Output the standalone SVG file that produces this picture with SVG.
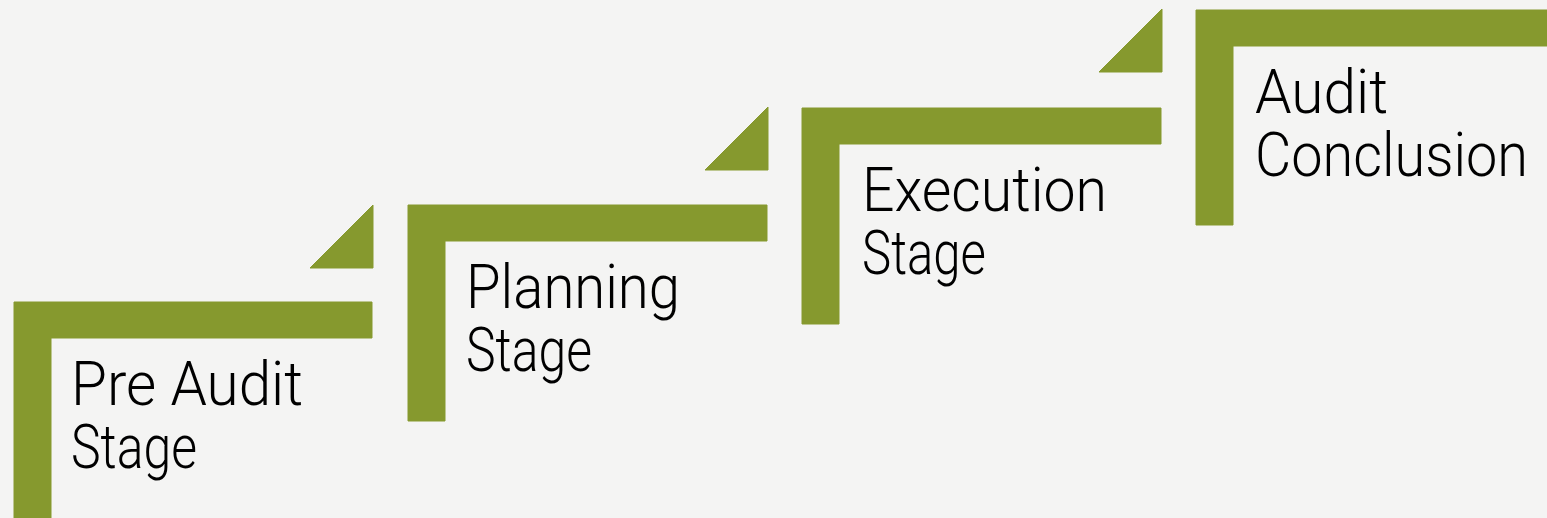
<svg xmlns="http://www.w3.org/2000/svg" width="1547" height="518" viewBox="0 0 1547 518">
<style>
.sh{fill:#86992e;stroke:#86992e;stroke-width:1;stroke-linejoin:round}
.t{font-family:Roboto,"Liberation Sans",Arial,sans-serif;font-weight:300;font-size:61px;fill:#000}
</style>
<defs>
<path id="L" d="M0,0 H359 V36 H37 V216 H0 Z"/>
<path id="T" d="M0,63 L63,0 V63 Z"/>
</defs>
<rect width="1547" height="518" fill="#f4f4f3"/>
<g id="connectors"/>
<g id="stage1">
<use href="#T" class="sh" x="310" y="205"/>
<path class="sh" d="M14,302 H372 V338 H51 V520 H14 Z"/>
<text class="t"><tspan x="71" y="405" textLength="232" lengthAdjust="spacingAndGlyphs">Pre Audit</tspan><tspan x="71" y="468" textLength="126" lengthAdjust="spacingAndGlyphs">Stage</tspan></text>
</g>
<g id="stage2">
<use href="#T" class="sh" x="705" y="107"/>
<use href="#L" class="sh" x="408" y="205"/>
<text class="t"><tspan x="466" y="308" textLength="214" lengthAdjust="spacingAndGlyphs">Planning</tspan><tspan x="466" y="371" textLength="126" lengthAdjust="spacingAndGlyphs">Stage</tspan></text>
</g>
<g id="stage3">
<use href="#T" class="sh" x="1099" y="9"/>
<use href="#L" class="sh" x="802" y="108"/>
<text class="t"><tspan x="862" y="211" textLength="245" lengthAdjust="spacingAndGlyphs">Execution</tspan><tspan x="862" y="274" textLength="124" lengthAdjust="spacingAndGlyphs">Stage</tspan></text>
</g>
<g id="stage4">
<path class="sh" d="M1196,10 H1550 V46 H1233 V225 H1196 Z"/>
<text class="t"><tspan x="1255" y="113" textLength="133" lengthAdjust="spacingAndGlyphs">Audit</tspan><tspan x="1255" y="176" textLength="273" lengthAdjust="spacingAndGlyphs">Conclusion</tspan></text>
</g>
</svg>
